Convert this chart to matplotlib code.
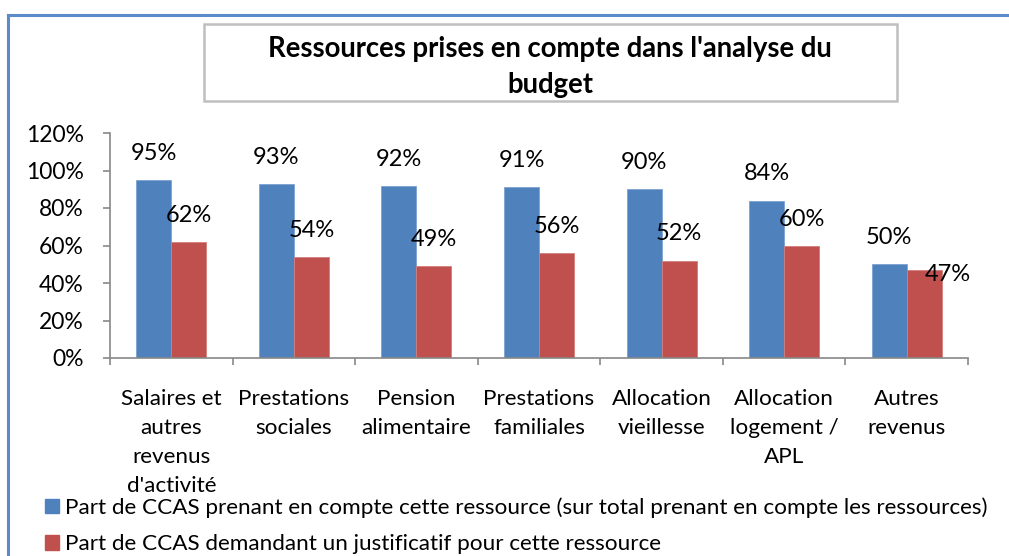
import numpy as np
import matplotlib
matplotlib.use("Agg")
import matplotlib.pyplot as plt
from matplotlib.patches import Rectangle, Patch

plt.rcParams['font.family'] = ['Lato', 'DejaVu Sans']

# données
categories = ["Salaires et\nautres\nrevenus\nd'activité", "Prestations\nsociales",
              "Pension\nalimentaire", "Prestations\nfamiliales", "Allocation\nvieillesse",
              "Allocation\nlogement /\nAPL", "Autres\nrevenus"]
prise_en_compte = [95, 93, 92, 91, 90, 84, 50]
justificatif = [62, 54, 49, 56, 52, 60, 47]
serie_labels = ["Part de CCAS prenant en compte cette ressource (sur total prenant en compte les ressources)",
                "Part de CCAS demandant un justificatif pour cette ressource"]
yticks = [0, 20, 40, 60, 80, 100, 120]

# décalage des étiquettes (pixels), le dernier rouge a été déplacé à la main
off_blue = [(0, 20)] * 7
off_red = [(0, 20)] * 6 + [(24, -11)]

BLUE = '#4F81BD'
RED = '#C0504D'
AXIS = '#888888'

W, H = 1009, 556
fig = plt.figure(figsize=(W / 100, H / 100), dpi=100)

# cadre extérieur (haut et gauche seulement)
fig.add_artist(plt.Line2D([8 / W, 1], [1 - 15 / H, 1 - 15 / H], color='#5B8BC9', lw=2.2))
fig.add_artist(plt.Line2D([8 / W, 8 / W], [0, 1 - 15 / H], color='#5B8BC9', lw=2.2))

# boîte du titre
fig.add_artist(Rectangle((204 / W, 1 - 101 / H), (897 - 204) / W, (101 - 24) / H,
                         transform=fig.transFigure, fill=False, ec='#BFBFBF', lw=1.8))
fig.text(550 / W, 1 - 57 / H, "Ressources prises en compte dans l'analyse du",
         ha='center', va='baseline', fontsize=19.8, fontweight='bold')
fig.text(550 / W, 1 - 93 / H, "budget", ha='center', va='baseline', fontsize=19.8, fontweight='bold')

ax = fig.add_axes([110 / W, 1 - 358 / H, (968 - 110) / W, (358 - 133) / H])
x = np.arange(len(categories))
bw = 0.285
b1 = ax.bar(x - bw / 2, prise_en_compte, bw, color=BLUE, edgecolor='#7EA2D2', lw=0.6)
b2 = ax.bar(x + bw / 2, justificatif, bw, color=RED, edgecolor='#D07F7D', lw=0.6)

for rect, v, (dx, dy) in zip(b1, prise_en_compte, off_blue):
    ax.annotate(f"{v}%", (rect.get_x() + rect.get_width() / 2, v), xytext=(dx, dy),
                textcoords='offset pixels', ha='center', va='baseline', fontsize=17)
for rect, v, (dx, dy) in zip(b2, justificatif, off_red):
    ax.annotate(f"{v}%", (rect.get_x() + rect.get_width() / 2, v), xytext=(dx, dy),
                textcoords='offset pixels', ha='center', va='baseline', fontsize=17)

ax.set_xlim(-0.5, len(categories) - 0.5)
ax.set_ylim(0, 120)
ax.set_yticks(yticks, [f"{t}%" for t in yticks], fontsize=16.5)
ax.set_xticks(np.arange(len(categories) + 1) - 0.5, minor=False)
ax.set_xticklabels([])
ax.set_xticks(x, categories, minor=True, fontsize=16.2, linespacing=1.58, va='top')
ax.tick_params(axis='x', which='major', direction='out', length=5, color=AXIS, width=1.2)
ax.tick_params(axis='x', which='minor', length=0, pad=22)
ax.tick_params(axis='y', direction='out', length=5, color=AXIS, width=1.2, pad=14)
for s in ['top', 'right']:
    ax.spines[s].set_visible(False)
for s in ['left', 'bottom']:
    ax.spines[s].set_color(AXIS)
    ax.spines[s].set_linewidth(1.2)

handles = [Patch(color=BLUE), Patch(color=RED)]
fig.legend(handles, serie_labels, loc='upper left', bbox_to_anchor=(45 / W, 1 - 497 / H),
           frameon=False, fontsize=16.2, handlelength=0.6, handleheight=0.6,
           handletextpad=0.3, labelspacing=0.75, borderaxespad=0, borderpad=0)

fig.savefig('out.png', dpi=100)
